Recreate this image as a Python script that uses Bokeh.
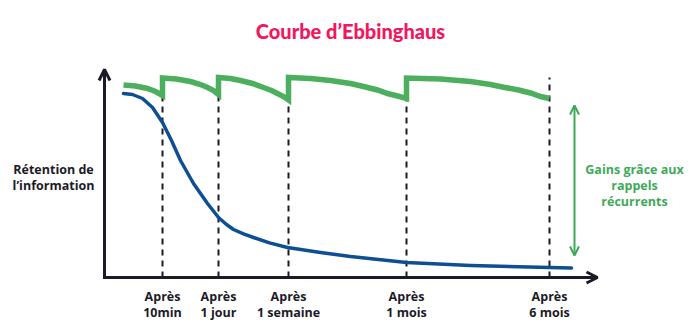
from bokeh.plotting import figure
from bokeh.models import Range1d, Arrow, OpenHead
from bokeh.core.properties import value
from bokeh.embed import file_html
from bokeh.resources import INLINE

# ---------------- data (schematic time position t, retention r in %) ----------------
tick_pos = [58, 114, 184, 302, 445]
tick_line1 = ["Après", "Après", "Après", "Après", "Après"]
tick_line2 = ["10min", "1 jour", "1 semaine", "1 mois", "6 mois"]
dash_top = [91, 91.5, 88.75, 89.5, 100]

# forgetting curve without recall (blue)
blue_t = [19, 28, 38, 48, 58, 67, 76, 89, 103, 114, 122, 129, 139, 149, 165, 183, 216, 246, 302, 366, 445, 467]
blue_r = [92, 91.5, 89.5, 85, 77.5, 68.5, 58.5, 47, 37, 30, 26.5, 24, 21.8, 20, 17.3, 15, 12.5, 10.5, 7.5, 6, 5, 4.75]

# retention with recurrent recalls (green), segments joined by vertical jumps
green_t = [19, 31, 43, 51, 58,
           58, 72, 86, 96, 103, 109, 114,
           114, 126, 136, 148, 159, 167, 173, 179, 184,
           184, 206, 226, 246, 259, 273, 283, 293, 302,
           302, 336, 366, 386, 399, 414, 426, 436, 445]
green_r = [96.25, 95.75, 94.5, 93, 91,
           99.75, 99.25, 98, 96.5, 95, 93.5, 91.5,
           100, 99.5, 98.5, 97, 95, 93.5, 92, 90.5, 88.75,
           100, 99.5, 98.5, 97, 95.5, 93.75, 92, 90.75, 89.5,
           99.75, 99.25, 98, 96.5, 95.15, 93.75, 92.25, 90.5, 89.5]

title_text = "Courbe d’Ebbinghaus"
ylabel_lines = ["Rétention de", "l’information"]
gain_lines = ["Gains grâce aux", "rappels", "récurrents"]

# ---------------- styles ----------------
AXIS_C = "#1b1b26"
BLUE = "#0e4f93"
GREEN = "#4caf5e"
GREEN_TXT = "#3fa95a"
PINK = "#f0175e"
FONT = value("Open Sans")

p = figure(width=700, height=333, output_backend="svg", toolbar_location=None,
           x_range=Range1d(-104, 596), y_range=Range1d(-28, 138.5),
           x_axis_location=None, y_axis_location=None, min_border=0)
p.grid.visible = False
p.outline_line_color = None
p.background_fill_color = "white"
p.border_fill_color = "white"

# dashed markers
p.segment(x0=tick_pos, y0=[0] * len(tick_pos), x1=tick_pos, y1=dash_top,
          line_color=AXIS_C, line_width=2, line_dash="6 5")

# curves
p.line(blue_t, blue_r, line_color=BLUE, line_width=3.5, line_cap="round", line_join="round")
p.line(green_t, green_r, line_color=GREEN, line_width=5.5, line_join="miter")

# axes with open arrow heads
p.add_layout(Arrow(x_start=0, y_start=0, x_end=0, y_end=104, line_color=AXIS_C, line_width=3,
                   end=OpenHead(size=11, line_width=3, line_color=AXIS_C)))
p.add_layout(Arrow(x_start=-1.5, y_start=0, x_end=493, y_end=0, line_color=AXIS_C, line_width=3,
                   end=OpenHead(size=11, line_width=3, line_color=AXIS_C)))

# gain double arrow
p.add_layout(Arrow(x_start=470, y_start=11, x_end=470, y_end=86, line_color=GREEN_TXT, line_width=2,
                   start=OpenHead(size=9, line_width=2, line_color=GREEN_TXT),
                   end=OpenHead(size=9, line_width=2, line_color=GREEN_TXT)))

# tick labels
p.text(x=tick_pos, y=[-9.5] * 5, text=tick_line1, text_font=FONT, text_font_style="bold",
       text_font_size="12.5px", text_color=AXIS_C, text_align="center", text_baseline="middle")
p.text(x=tick_pos, y=[-17.5] * 5, text=tick_line2, text_font=FONT, text_font_style="bold",
       text_font_size="12.5px", text_color=AXIS_C, text_align="center", text_baseline="middle")

# y label
p.text(x=[-51, -51], y=[54, 46], text=ylabel_lines, text_font=FONT, text_font_style="bold",
       text_font_size="12.5px", text_color=AXIS_C, text_align="center", text_baseline="middle")

# gain label
p.text(x=[530, 530, 530], y=[54, 46, 38], text=gain_lines, text_font=FONT, text_font_style="bold",
       text_font_size="12.5px", text_color=GREEN_TXT, text_align="center", text_baseline="middle")

# title
p.text(x=[246], y=[123.5], text=[title_text], text_font=value("Lato Black"), text_font_style="bold",
       text_font_size="20px", text_color=PINK, text_align="center", text_baseline="middle")

open("out.html", "w").write(file_html(p, INLINE))
